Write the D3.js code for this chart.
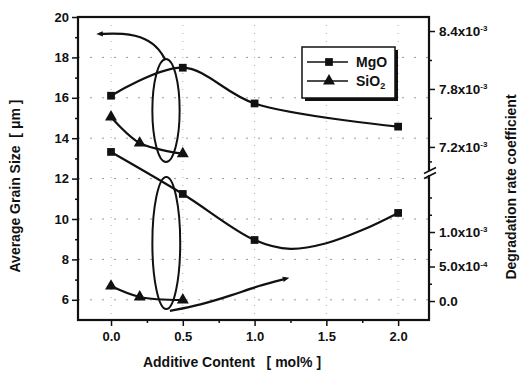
<!DOCTYPE html>
<html>
<head>
<meta charset="utf-8">
<script src="https://cdn.jsdelivr.net/npm/d3@7"></script>
<style>
  body { margin: 0; background: #fff; }
  svg { display: block; font-family: "Liberation Sans", Arial, sans-serif; }
</style>
</head>
<body>
<svg id="chart"></svg>
<script>
// additive content (mol%)
const mgoX = [0, 0.5, 1.0, 2.0];
const sioX = [0, 0.2, 0.5];

// upper curves: degradation rate coefficient (right axis, upper segment)
const mgoRate = [7.73e-3, 8.02e-3, 7.65e-3, 7.41e-3];
const sioRate = [7.51e-3, 7.24e-3, 7.13e-3];

// lower curves: average grain size (left axis, um)
const mgoGrain = [13.32, 11.24, 8.96, 10.3];
const sioGrain = [6.68, 6.14, 5.99];

// hand-drawn guide line for MgO grain size
const mgoGuideX = [0, 0.5, 1.0, 1.25, 1.5, 1.75, 2.0];
const mgoGuideGrain = [13.32, 11.24, 8.96, 8.52, 8.8, 9.45, 10.3];

// ticks
const xTicks = [0, 0.5, 1.0, 1.5, 2.0];
const xMinor = [0.25, 0.75, 1.25, 1.75];
const yLeftTicks = [6, 8, 10, 12, 14, 16, 18, 20];
const yLeftMinor = [7, 9, 11, 13, 15, 17, 19];
const yRightTop = [7.2e-3, 7.8e-3, 8.4e-3];
const yRightTopMinor = [7.05e-3, 7.5e-3, 8.1e-3];
const yRightTopLabels = ["7.2x10|-3", "7.8x10|-3", "8.4x10|-3"];
const yRightBot = [0, 5e-4, 1e-3];
const yRightBotMinor = [2.5e-4, 7.5e-4, 1.25e-3, 1.5e-3];
const yRightBotLabels = ["0.0", "5.0x10|-4", "1.0x10|-3"];

// annotation ovals and pointers (x in mol%, y in grain size units)
const ovals = [
  { x: 0.383, dx: 0.095, y0: 12.82, y1: 17.92 },
  { x: 0.385, dx: 0.097, y0: 5.54, y1: 12.08 }
];
const pointerTop = [[0.38, 17.87], [0.34, 18.37], [0.25, 18.96], [0.08, 19.21], [-0.08, 19.16]];
const pointerBot = [[0.41, 5.45], [0.62, 5.74], [0.85, 6.24], [1.02, 6.68], [1.22, 7.05]];

const width = 521, height = 373;
const margin = { left: 78, right: 92, top: 17, bottom: 53 };
const breakY = 173;
const ink = "#111";

const svg = d3.select("#chart").attr("width", width).attr("height", height);

const x = d3.scaleLinear().domain([-0.23, 2.215]).range([margin.left, width - margin.right]);
const yL = d3.scaleLinear().domain([5, 20]).range([height - margin.bottom, margin.top]);
const yRt = d3.scaleLinear().domain([6.93e-3, 8.545e-3]).range([breakY, margin.top]);
const yRb = d3.scaleLinear().domain([-2.75e-4, 1.855e-3]).range([height - margin.bottom, breakY]);

const x0 = margin.left, x1 = width - margin.right;
const yb = height - margin.bottom, yt = margin.top;

// dotted grid
svg.append("g")
  .selectAll("line")
  .data(yLeftTicks.filter(d => d < 20))
  .join("line")
  .attr("x1", x0).attr("x2", x1)
  .attr("y1", d => yL(d)).attr("y2", d => yL(d))
  .attr("stroke", "#999").attr("stroke-width", 1)
  .attr("stroke-dasharray", "2,10");

svg.append("g")
  .selectAll("line")
  .data(xTicks)
  .join("line")
  .attr("x1", d => x(d)).attr("x2", d => x(d))
  .attr("y1", yt).attr("y2", yb)
  .attr("stroke", "#aaa").attr("stroke-width", 1)
  .attr("stroke-dasharray", "1,7");

// axes
function styleAxis(g) {
  g.select(".domain").remove();
  g.selectAll(".tick line").attr("stroke", ink).attr("stroke-width", 1.5);
  g.selectAll(".tick text").attr("fill", ink).style("font-weight", "bold");
}

svg.append("g")
  .attr("transform", `translate(0,${yb})`)
  .call(d3.axisBottom(x).tickValues(xTicks).tickSize(6).tickPadding(6).tickFormat(d3.format(".1f")))
  .call(styleAxis)
  .call(g => g.selectAll(".tick text").style("font-size", "13px"));
svg.append("g")
  .attr("transform", `translate(0,${yb})`)
  .call(d3.axisBottom(x).tickValues(xMinor).tickSize(3).tickFormat(""))
  .call(styleAxis);

svg.append("g")
  .attr("transform", `translate(${x0},0)`)
  .call(d3.axisLeft(yL).tickValues(yLeftTicks).tickSize(6).tickPadding(3))
  .call(styleAxis)
  .call(g => g.selectAll(".tick text").style("font-size", "13px"));
svg.append("g")
  .attr("transform", `translate(${x0},0)`)
  .call(d3.axisLeft(yL).tickValues(yLeftMinor).tickSize(3).tickFormat(""))
  .call(styleAxis);

function rightLabels(g, labels) {
  g.selectAll(".tick text").each(function (d, i) {
    const parts = labels[i].split("|");
    const t = d3.select(this).text(parts[0]).style("font-size", "13.5px");
    if (parts[1]) {
      t.append("tspan").attr("dy", "-0.55em").style("font-size", "8px").text(parts[1]);
    }
  });
}

svg.append("g")
  .attr("transform", `translate(${x1},0)`)
  .call(d3.axisRight(yRt).tickValues(yRightTop).tickSize(6).tickPadding(4))
  .call(styleAxis)
  .call(g => rightLabels(g, yRightTopLabels));
svg.append("g")
  .attr("transform", `translate(${x1},0)`)
  .call(d3.axisRight(yRt).tickValues(yRightTopMinor).tickSize(3).tickFormat(""))
  .call(styleAxis);
svg.append("g")
  .attr("transform", `translate(${x1},0)`)
  .call(d3.axisRight(yRb).tickValues(yRightBot).tickSize(6).tickPadding(4))
  .call(styleAxis)
  .call(g => rightLabels(g, yRightBotLabels));
svg.append("g")
  .attr("transform", `translate(${x1},0)`)
  .call(d3.axisRight(yRb).tickValues(yRightBotMinor).tickSize(3).tickFormat(""))
  .call(styleAxis);

// frame
svg.append("rect")
  .attr("x", x0).attr("y", yt)
  .attr("width", x1 - x0).attr("height", yb - yt)
  .attr("fill", "none").attr("stroke", ink).attr("stroke-width", 2.2);

// axis break on right axis
svg.append("rect").attr("x", x1 - 2).attr("y", breakY - 2).attr("width", 4).attr("height", 4).attr("fill", "#fff");
[-2.5, 2.5].forEach(o => {
  svg.append("line")
    .attr("x1", x1 - 5).attr("x2", x1 + 7)
    .attr("y1", breakY + o + 3).attr("y2", breakY + o - 3)
    .attr("stroke", ink).attr("stroke-width", 1.6);
});

// curves
const smooth = d3.line().curve(d3.curveCatmullRom.alpha(0.5));

function series(xs, ys, scaleY) {
  return xs.map((d, i) => [x(d), scaleY(ys[i])]);
}

const mgoRatePts = series(mgoX, mgoRate, yRt);
const sioRatePts = series(sioX, sioRate, yRt);
const mgoGrainPts = series(mgoX, mgoGrain, yL);
const sioGrainPts = series(sioX, sioGrain, yL);

svg.append("g")
  .selectAll("path")
  .data([mgoRatePts, sioRatePts, series(mgoGuideX, mgoGuideGrain, yL), sioGrainPts])
  .join("path")
  .attr("d", smooth)
  .attr("fill", "none")
  .attr("stroke", ink)
  .attr("stroke-width", 2.2);

// markers
const square = d3.symbol().type(d3.symbolSquare).size(60);
const tri = d3.symbol().type(d3.symbolTriangle).size(62);

[mgoRatePts, mgoGrainPts].forEach(pts => {
  svg.append("g").selectAll("path").data(pts).join("path")
    .attr("transform", d => `translate(${d[0]},${d[1]})`)
    .attr("d", square).attr("fill", ink);
});
[sioRatePts, sioGrainPts].forEach(pts => {
  svg.append("g").selectAll("path").data(pts).join("path")
    .attr("transform", d => `translate(${d[0]},${d[1]})`)
    .attr("d", tri).attr("fill", ink);
});

// ovals
svg.append("g")
  .selectAll("ellipse")
  .data(ovals)
  .join("ellipse")
  .attr("cx", d => x(d.x))
  .attr("cy", d => (yL(d.y0) + yL(d.y1)) / 2)
  .attr("rx", d => x(d.x + d.dx) - x(d.x))
  .attr("ry", d => (yL(d.y0) - yL(d.y1)) / 2)
  .attr("fill", "none")
  .attr("stroke", ink)
  .attr("stroke-width", 2);

const ptrLine = d3.line().x(d => x(d[0])).y(d => yL(d[1])).curve(d3.curveBasis);
svg.append("defs").append("marker")
  .attr("id", "arr").attr("viewBox", "0 0 10 10")
  .attr("refX", 5).attr("refY", 5)
  .attr("markerWidth", 3).attr("markerHeight", 3)
  .attr("orient", "auto")
  .append("path").attr("d", "M0,1 L10,5 L0,9 Z").attr("fill", ink);

[pointerTop, pointerBot].forEach(p => {
  svg.append("path")
    .attr("d", ptrLine(p))
    .attr("fill", "none")
    .attr("stroke", ink)
    .attr("stroke-width", 2.2)
    .attr("marker-end", "url(#arr)");
});

// legend
const lg = svg.append("g").attr("transform", "translate(302,47)");
lg.append("rect").attr("x", 3).attr("y", 3).attr("width", 93).attr("height", 51).attr("fill", ink);
lg.append("rect").attr("x", 0).attr("y", 0).attr("width", 93).attr("height", 51)
  .attr("fill", "#fff").attr("stroke", ink).attr("stroke-width", 1.5);
const legendItems = [
  { label: "MgO", sym: square, y: 15 },
  { label: "SiO", sub: "2", sym: tri, y: 34 }
];
legendItems.forEach(it => {
  lg.append("line").attr("x1", 5).attr("x2", 46).attr("y1", it.y).attr("y2", it.y)
    .attr("stroke", ink).attr("stroke-width", 1.5);
  lg.append("path").attr("transform", `translate(27,${it.y})`).attr("d", it.sym).attr("fill", ink);
  const t = lg.append("text").attr("x", 54).attr("y", it.y + 5)
    .style("font-size", "14px").style("font-weight", "bold").attr("fill", ink).text(it.label);
  if (it.sub) t.append("tspan").attr("dy", "0.3em").style("font-size", "9px").text(it.sub);
});

// axis titles
svg.append("text")
  .attr("x", 232).attr("y", 367)
  .attr("text-anchor", "middle")
  .style("font-size", "14px").style("font-weight", "bold").attr("fill", ink)
  .attr("xml:space", "preserve")
  .text("Additive Content   [ mol% ]");

svg.append("text")
  .attr("transform", "translate(20,186) rotate(-90)")
  .attr("text-anchor", "middle")
  .style("font-size", "14px").style("font-weight", "bold").attr("fill", ink)
  .attr("xml:space", "preserve")
  .text("Average Grain Size  [ \u03bcm ]");

svg.append("text")
  .attr("transform", "translate(516,187) rotate(-90)")
  .attr("text-anchor", "middle")
  .style("font-size", "14px").style("font-weight", "bold").attr("fill", ink)
  .text("Degradation rate coefficient");
</script>
</body>
</html>
